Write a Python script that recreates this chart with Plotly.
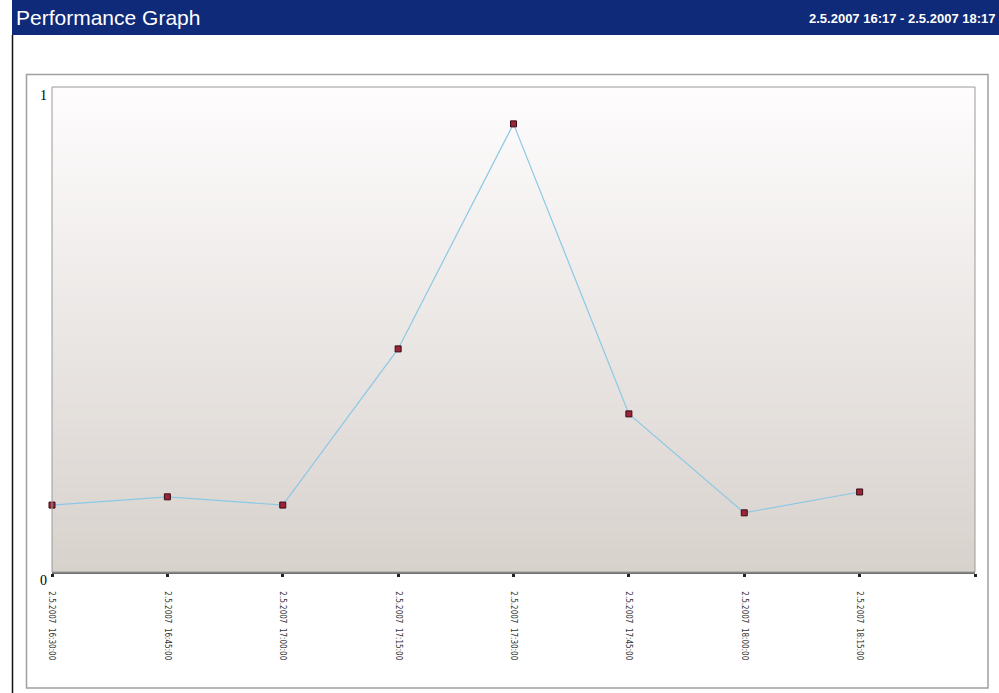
import plotly.graph_objects as go
import pandas as pd

# ---- data ----
times = ["2007-05-02 16:30:00", "2007-05-02 16:45:00", "2007-05-02 17:00:00",
         "2007-05-02 17:15:00", "2007-05-02 17:30:00", "2007-05-02 17:45:00",
         "2007-05-02 18:00:00", "2007-05-02 18:15:00"]
values = [0.138, 0.155, 0.138, 0.460, 0.924, 0.326, 0.122, 0.165]
tick_times = times + ["2007-05-02 18:30:00"]
tick_labels = ["2.5.2007  16:30:00", "2.5.2007  16:45:00", "2.5.2007  17:00:00",
               "2.5.2007  17:15:00", "2.5.2007  17:30:00", "2.5.2007  17:45:00",
               "2.5.2007  18:00:00", "2.5.2007  18:15:00", ""]
title_left = "Performance Graph"
title_right = "2.5.2007 16:17 - 2.5.2007 18:17"

W, H = 999, 693
L, R, T, B = 52, 975, 87, 572
pw, ph = R - L, B - T


def px(x):
    return (x - L) / pw


def py(y):
    return (B - y) / ph


fig = go.Figure()
fig.add_trace(go.Scatter(
    x=pd.to_datetime(times), y=values, mode="lines+markers",
    line=dict(color="#8cc8e6", width=1.2),
    marker=dict(symbol="square", size=6, color="#9a2438",
                line=dict(color="#3a0c14", width=1)),
    hoverinfo="x+y", showlegend=False, cliponaxis=False))

shapes = []
# gradient background of plot area
n = 60
top = (254, 252, 253)
bot = (216, 210, 205)
for i in range(n):
    f = i / (n - 1)
    c = tuple(round(top[k] + (bot[k] - top[k]) * f) for k in range(3))
    shapes.append(dict(type="rect", xref="x domain", yref="y domain",
                       x0=0, x1=1, y0=max(0, 1 - (i + 1.6) / n), y1=1 - i / n,
                       fillcolor="rgb(%d,%d,%d)" % c, line=dict(width=0),
                       layer="below"))
# plot frame
shapes.append(dict(type="rect", xref="x domain", yref="y domain", x0=0, x1=1,
                   y0=0, y1=1, line=dict(color="#9a9a9a", width=1),
                   layer="above"))
# header bar
shapes.append(dict(type="rect", xref="paper", yref="paper",
                   x0=px(12), x1=px(W + 5), y0=py(35), y1=py(-5),
                   fillcolor="#0f2a78", line=dict(width=0), layer="above"))
# left black border line
shapes.append(dict(type="line", xref="paper", yref="paper",
                   x0=px(12.5), x1=px(12.5), y0=py(35), y1=py(H + 5),
                   line=dict(color="#111111", width=1.5)))
# outer grey frame
shapes.append(dict(type="rect", xref="paper", yref="paper",
                   x0=px(26.5), x1=px(988), y0=py(688), y1=py(74.5),
                   line=dict(color="#a0a0a0", width=1.5)))

annotations = [
    dict(text=title_left, xref="paper", yref="paper", x=px(14), y=py(17),
         xanchor="left", yanchor="middle", showarrow=False,
         font=dict(family="Liberation Sans, Arial", size=21, color="white")),
    dict(text="<b>" + title_right + "</b>", xref="paper", yref="paper",
         x=px(997), y=py(18), xanchor="right", yanchor="middle",
         showarrow=False,
         font=dict(family="Liberation Sans, Arial", size=13, color="white")),
]

fig.update_layout(
    width=W, height=H, margin=dict(l=L, r=W - R, t=T, b=H - B),
    paper_bgcolor="white", plot_bgcolor="white",
    shapes=shapes, annotations=annotations,
    xaxis=dict(range=[pd.Timestamp(tick_times[0]), pd.Timestamp(tick_times[-1])],
               tickvals=pd.to_datetime(tick_times), ticktext=tick_labels,
               tickangle=90, ticks="outside", ticklen=3, tickwidth=3,
               tickcolor="#222222", showgrid=False, zeroline=False,
               showline=True, linecolor="#707070", linewidth=1.5,
               ticklabelstandoff=13,
               tickfont=dict(family="DejaVu Sans Condensed, Liberation Sans", size=8,
                             color="#333333")),
    yaxis=dict(range=[0, 1], tickvals=[0, 1], ticktext=["0", "1"],
               showgrid=False, zeroline=False, showline=False, ticks="",
               ticklabelshift=8, ticklabelstandoff=4,
               tickfont=dict(family="Liberation Serif, Times New Roman", size=14,
                             color="#000000")),
)

fig.write_html("out.html")
